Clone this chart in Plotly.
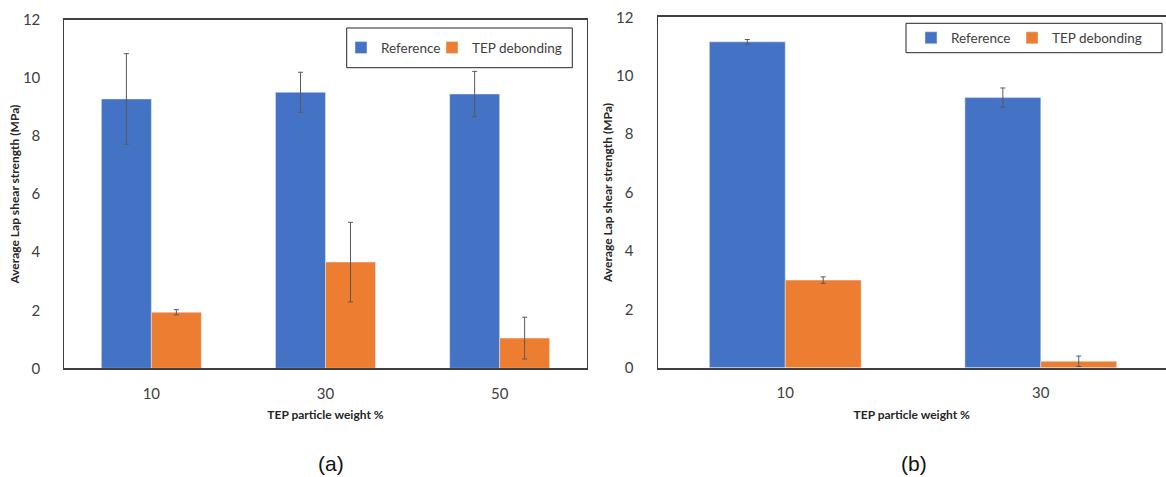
import plotly.graph_objects as go

# Panel (a): three particle loadings
cats_a = ["10", "30", "50"]
ref_a = [9.28, 9.51, 9.45]
ref_a_err = [1.56, 0.69, 0.78]
tep_a = [1.93, 3.66, 1.04]
tep_a_err = [0.09, 1.37, 0.72]

# Panel (b): two particle loadings
cats_b = ["10", "30"]
ref_b = [11.16, 9.25]
ref_b_err = [0.08, 0.33]
tep_b = [3.0, 0.22]
tep_b_err = [0.11, 0.18]

y_ticks = [0, 2, 4, 6, 8, 10, 12]

BLUE = "#4472C4"
ORANGE = "#ED7D31"
ERR = "#5a5a5a"
FONT = "Lato, Carlito, Calibri, sans-serif"

W, H = 1166, 477

fig = go.Figure()


def add_pair(cats, ref, ref_err, tep, tep_err, xa, ya, leg_ref, leg_tep, w):
    fig.add_trace(go.Bar(
        x=cats, y=ref, name="Reference", marker_color=BLUE,
        width=w, offset=-w, xaxis=xa, yaxis=ya, legend=leg_ref, showlegend=True,
        error_y=dict(type="data", array=ref_err, color=ERR, thickness=1, width=2.5),
    ))
    fig.add_trace(go.Bar(
        x=cats, y=tep, name="TEP debonding", marker_color=ORANGE,
        width=w, offset=0, xaxis=xa, yaxis=ya, legend=leg_tep, showlegend=True,
        error_y=dict(type="data", array=tep_err, color=ERR, thickness=1, width=2.5),
    ))


add_pair(cats_a, ref_a, ref_a_err, tep_a, tep_a_err, "x", "y", "legend", "legend2", 0.287)
add_pair(cats_b, ref_b, ref_b_err, tep_b, tep_b_err, "x2", "y2", "legend3", "legend4", 0.297)

axis_font = dict(family=FONT, size=15, color="#404040")
title_font = dict(family=FONT, size=12, color="#262626")

common_x = dict(
    type="category", showgrid=False, showline=True, linecolor="#404040", linewidth=1.5,
    ticks="", tickfont=axis_font, ticklabelstandoff=11, automargin=False,
    title=dict(text="<b>TEP particle weight %</b>", font=title_font, standoff=10),
)
common_y = dict(
    range=[0, 12], tickvals=y_ticks, showgrid=False, showline=True,
    linecolor="#404040", linewidth=1, ticks="", tickfont=axis_font, ticklabelstandoff=20,
    zeroline=False, automargin=False,
    title=dict(text="<b>Average Lap shear strength (MPa)</b>", font=title_font, standoff=0),
)

legend_font = dict(family=FONT, size=13.5, color="#404040")


def legend_at(x_px, y_px):
    # one entry per legend, placed by its left edge and vertical centre (pixels)
    return dict(
        orientation="h", x=x_px / W, y=1 - y_px / H, xanchor="left", yanchor="middle",
        borderwidth=0, bgcolor="rgba(0,0,0,0)", font=legend_font, itemwidth=30,
    )


fig.update_layout(
    width=W, height=H, margin=dict(l=0, r=0, t=0, b=0, autoexpand=False),
    paper_bgcolor="white", plot_bgcolor="white", showlegend=True,
    barmode="overlay", font=dict(family=FONT),
    xaxis=dict(common_x, domain=[64.3 / W, 586.7 / W], mirror=True, anchor="y",
               range=[-0.5, 2.5]),
    yaxis=dict(common_y, domain=[1 - 368.3 / H, 1 - 20 / H], mirror=True, anchor="x"),
    xaxis2=dict(common_x, domain=[657.5 / W, 1.0], mirror=True, anchor="y2",
                range=[-0.5, 1.49]),
    yaxis2=dict(common_y, domain=[1 - 367.7 / H, 1 - 17.3 / H], anchor="x2"),
    legend=legend_at(341, 47.8),
    legend2=legend_at(432, 47.8),
    legend3=legend_at(911, 38),
    legend4=legend_at(1012, 38),
    shapes=[
        # legend frames
        dict(type="rect", xref="paper", yref="paper",
             x0=346.7 / W, x1=572.3 / W, y0=1 - 67.7 / H, y1=1 - 28 / H,
             line=dict(color="#262626", width=1), fillcolor="rgba(0,0,0,0)", layer="above"),
        dict(type="rect", xref="paper", yref="paper",
             x0=906 / W, x1=1162 / W, y0=1 - 52.7 / H, y1=1 - 23.3 / H,
             line=dict(color="#262626", width=1), fillcolor="rgba(0,0,0,0)", layer="above"),
    ],
    annotations=[
        dict(text="(a)", x=331 / W, y=1 - 463 / H, xref="paper", yref="paper",
             xanchor="center", yanchor="middle", showarrow=False,
             font=dict(family="Liberation Sans, Arial, sans-serif", size=21, color="#111")),
        dict(text="(b)", x=913.5 / W, y=1 - 463 / H, xref="paper", yref="paper",
             xanchor="center", yanchor="middle", showarrow=False,
             font=dict(family="Liberation Sans, Arial, sans-serif", size=21, color="#111")),
    ],
)

fig.write_html("out.html")
